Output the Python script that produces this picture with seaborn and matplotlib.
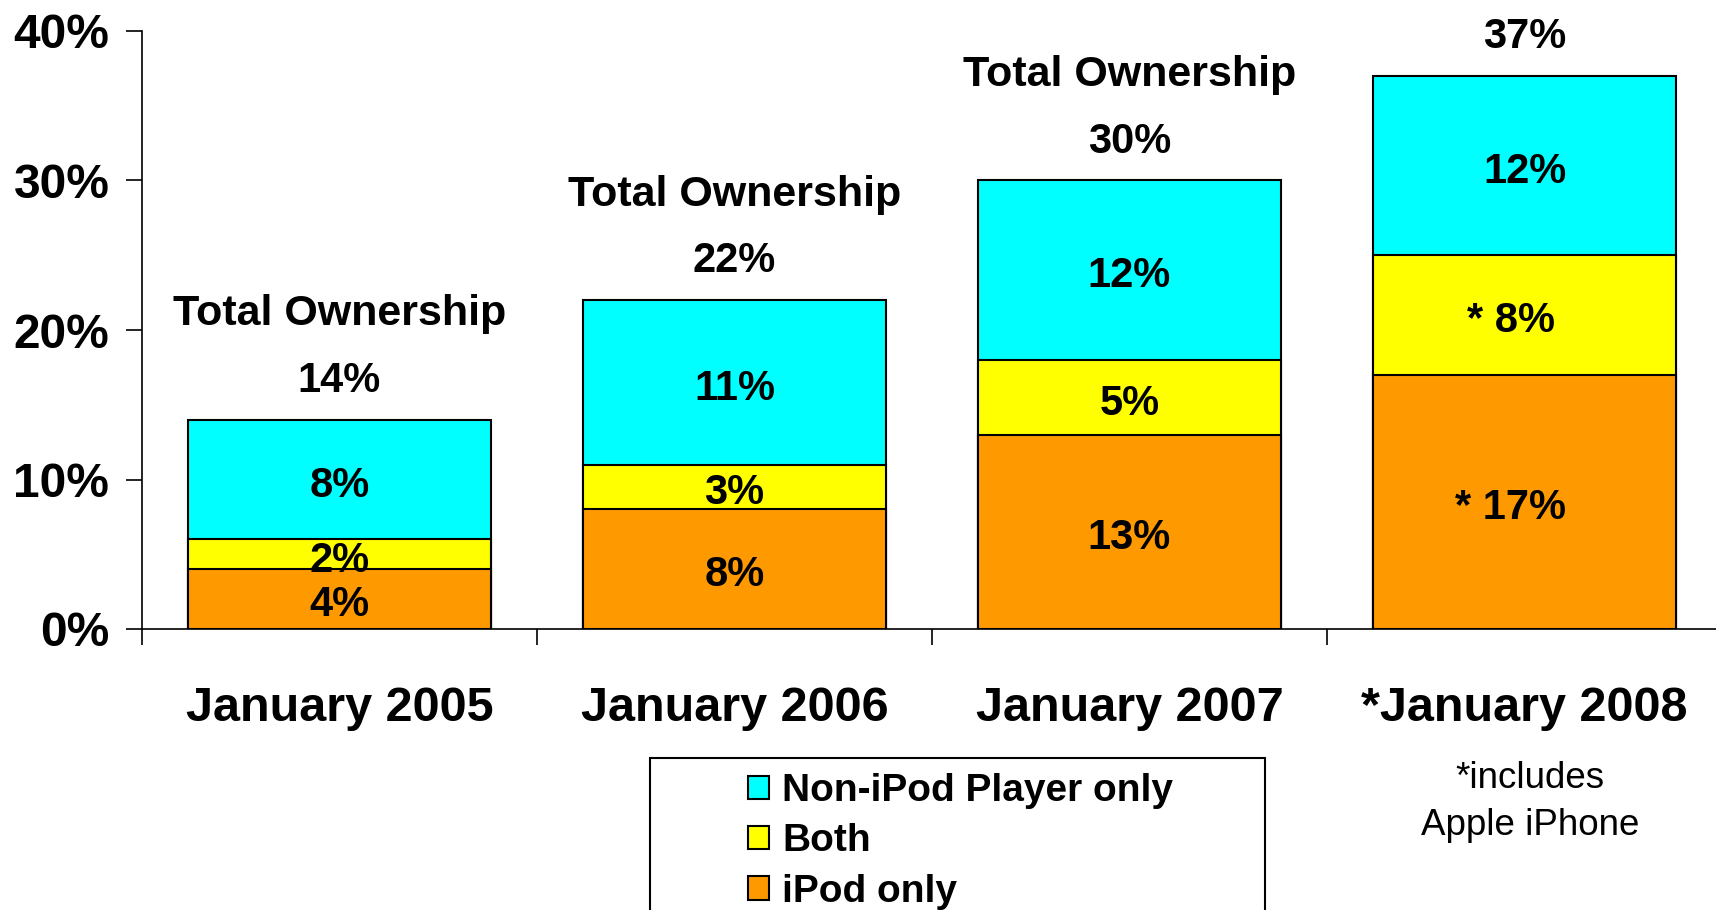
import numpy as np
import pandas as pd
import matplotlib
matplotlib.use("Agg")
import matplotlib.pyplot as plt
import seaborn as sns
from matplotlib.patches import Rectangle
from matplotlib.ticker import FixedLocator

# ---- data ----
months = ["January 2005", "January 2006", "January 2007", "*January 2008"]
ipod_only = [4, 8, 13, 17]
both = [2, 3, 5, 8]
non_ipod_only = [8, 11, 12, 12]
total_ownership = [14, 22, 30, 37]
iphone_mark = ["", "", "", "* "]
series_names = ["Non-iPod Player only", "Both", "iPod only"]
y_ticks = [0, 10, 20, 30, 40]
y_tick_labels = ["0%", "10%", "20%", "30%", "40%"]
total_title = "Total Ownership"
note_text = "*includes\nApple iPhone"

CYAN = "#00FFFF"
YELLOW = "#FFFF00"
ORANGE = "#FF9900"

sns.set_theme(style="white")
plt.rcParams["font.family"] = ["Liberation Sans", "DejaVu Sans"]
plt.rcParams["text.color"] = "black"

df = pd.DataFrame({"month": months, "ipod": ipod_only, "both": both, "non": non_ipod_only})
df["ipod_both"] = df["ipod"] + df["both"]
df["total"] = df["ipod_both"] + df["non"]

W, H = 1716, 910
fig = plt.figure(figsize=(W / 100, H / 100), dpi=100)
ax = fig.add_axes([142 / W, (H - 629) / H, (1722 - 142) / W, (629 - 31) / H])

bar_kw = dict(width=0.767, edgecolor="black", linewidth=1.5, saturation=1, ax=ax, order=months)
sns.barplot(data=df, x="month", y="total", color=CYAN, label=series_names[0], **bar_kw)
sns.barplot(data=df, x="month", y="ipod_both", color=YELLOW, label=series_names[1], **bar_kw)
sns.barplot(data=df, x="month", y="ipod", color=ORANGE, label=series_names[2], **bar_kw)
if ax.get_legend() is not None:
    ax.get_legend().remove()

ax.set_xlim(-0.5, 3.5)
ax.set_ylim(0, 40)
ax.set_xlabel("")
ax.set_ylabel("")
ax.set_yticks(y_ticks, y_tick_labels)
ax.set_xticks(range(len(months)), months)
ax.xaxis.set_minor_locator(FixedLocator([-0.5, 0.5, 1.5, 2.5]))

ax.tick_params(axis="y", which="major", left=True, direction="out", length=11.5, width=1.2,
               color="black", pad=12, labelsize=34.5, labelcolor="black")
ax.tick_params(axis="x", which="major", bottom=True, length=0, pad=41, labelsize=35, labelcolor="black")
ax.tick_params(axis="x", which="minor", bottom=True, direction="out", length=11.5, width=1.2, color="black")
for lbl in ax.get_yticklabels() + ax.get_xticklabels():
    lbl.set_fontweight("bold")

for side in ["top", "right"]:
    ax.spines[side].set_visible(False)
for side in ["left", "bottom"]:
    ax.spines[side].set_color("black")
    ax.spines[side].set_linewidth(1.2)

lab_kw = dict(ha="center", va="center", fontsize=30, fontweight="bold", color="black",
              textcoords="offset points")
for i in range(len(months)):
    mark = iphone_mark[i]
    off = -10 if mark else 0
    ax.annotate(f"{mark}{ipod_only[i]}%", xy=(i, ipod_only[i] / 2), xytext=(off, -4.5), **lab_kw)
    ax.annotate(f"{mark}{both[i]}%", xy=(i, ipod_only[i] + both[i] / 2), xytext=(off, -4.5), **lab_kw)
    ax.annotate(f"{non_ipod_only[i]}%", xy=(i, ipod_only[i] + both[i] + non_ipod_only[i] / 2),
                xytext=(0, -4.5), **lab_kw)
    top = df["total"].iloc[i]
    ax.annotate(f"{total_ownership[i]}%", xy=(i, top), xytext=(0, 28), **lab_kw)
    if i < len(months) - 1:
        ax.annotate(total_title, xy=(i, top), xytext=(0, 76),
                    **{**lab_kw, "fontsize": 31})

fig.text(1530 / W, (H - 802) / H, note_text, ha="center", va="center", fontsize=26.5,
         color="black", linespacing=1.42)

handles = list(ax.containers[:3])
leg = fig.legend(handles, series_names, loc="upper left",
                 bbox_to_anchor=(748 / W, (H - 773) / H), bbox_transform=fig.transFigure,
                 frameon=False, borderpad=0, borderaxespad=0, handlelength=0.55,
                 handleheight=0.55, handletextpad=0.33, labelspacing=0.37,
                 labelcolor="black", prop={"weight": "bold", "size": 28})
fig.add_artist(Rectangle((650 / W, -0.05), 615 / W, 0.05 + (H - 758) / H,
                         transform=fig.transFigure, fill=False, edgecolor="black", linewidth=1.5))

fig.savefig("out.png", dpi=100)
